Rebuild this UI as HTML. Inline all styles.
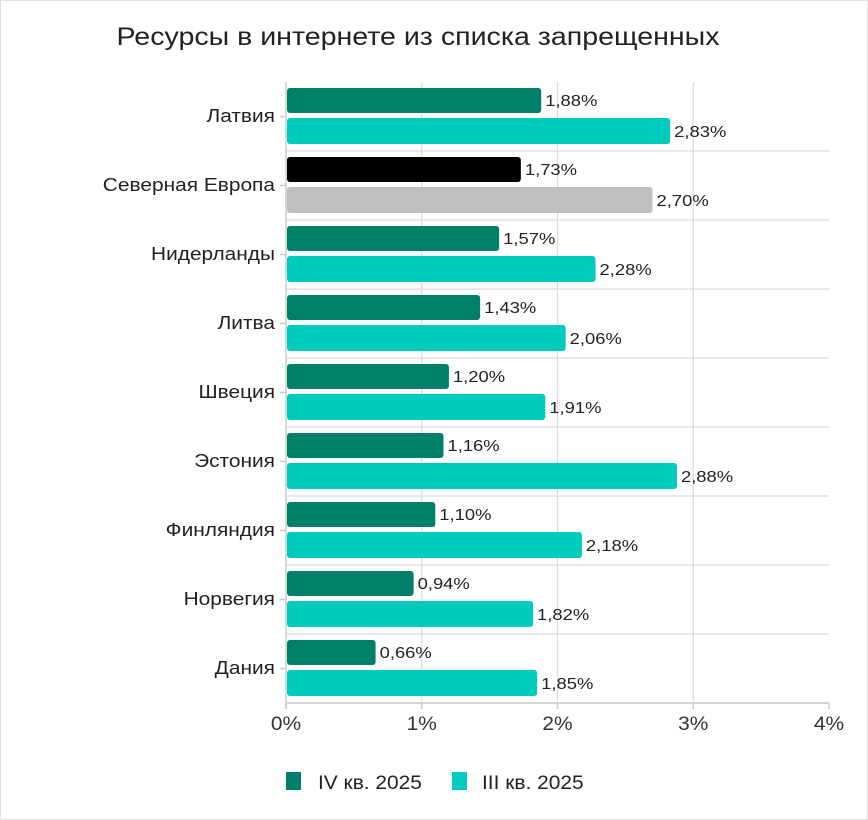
<!DOCTYPE html>
<html><head><meta charset="utf-8"><style>
html,body{margin:0;padding:0;background:#fff}
svg{display:block;font-family:"Liberation Sans","Noto Sans CJK SC",sans-serif}
</style></head><body>
<svg id="s" width="868" height="820" xmlns="http://www.w3.org/2000/svg">
<rect x="0.5" y="0.5" width="867" height="819" fill="#fff" stroke="#e0e0e0"/>
<text x="418" y="45" text-anchor="middle" font-size="25" fill="#222" textLength="603" lengthAdjust="spacingAndGlyphs">Ресурсы в интернете из списка запрещенных</text>
<g id="g"></g>
<rect x="286" y="772" width="15" height="18" fill="#008069"/>
<text class="w" data-f="1.1" x="318" y="789" font-size="19" fill="#222">IV кв. 2025</text>
<rect x="452" y="772" width="15" height="18" fill="#00CCBE"/>
<text class="w" data-f="1.1" x="482" y="789" font-size="19" fill="#222">III кв. 2025</text>
</svg>
<script>
var d=[["Латвия",1.88,2.83],["Северная Европа",1.73,2.70],["Нидерланды",1.57,2.28],["Литва",1.43,2.06],["Швеция",1.20,1.91],["Эстония",1.16,2.88],["Финляндия",1.10,2.18],["Норвегия",0.94,1.82],["Дания",0.66,1.85]];
var X0=286,S=135.75,h="";
for(var k=0;k<=4;k++){var x=X0+k*S;
if(k>0&&k<4)h+='<line x1="'+x+'" y1="82" x2="'+x+'" y2="703" stroke="#dcdcdc" stroke-width="1.3"/>';
h+='<line x1="'+x+'" y1="703" x2="'+x+'" y2="709" stroke="#ccc" stroke-width="1.5"/>';
h+='<text class="w" data-f="1.1" x="'+x+'" y="730" text-anchor="middle" font-size="19" fill="#333">'+k+'%</text>';}
for(var i=1;i<=9;i++){var y=82+69*i;h+='<line x1="'+X0+'" y1="'+y+'" x2="829" y2="'+y+'" stroke="#dcdcdc" stroke-width="1.3"/>';}
h+='<line x1="'+X0+'" y1="82" x2="'+X0+'" y2="709" stroke="#ccc" stroke-width="1.5"/>';
h+='<line x1="'+X0+'" y1="703" x2="829" y2="703" stroke="#ccc" stroke-width="1.5"/>';
function f(v){return v.toFixed(2).replace(".",",")+"%";}
for(var i=0;i<9;i++){var t=82+69*i,r=d[i];
var c1=i==1?"#000":"#008069",c2=i==1?"#BFBFBF":"#00CCBE";
h+='<line x1="280" y1="'+(t+34.5)+'" x2="286" y2="'+(t+34.5)+'" stroke="#ccc" stroke-width="1.5"/>';
h+='<text class="w" data-f="1.16" x="275" y="'+(t+40)+'" text-anchor="end" font-size="18" fill="#222">'+r[0]+'</text>';
var w1=r[1]*S,w2=r[2]*S;
h+='<rect x="'+(X0+1)+'" y="'+(t+6)+'" width="'+(w1-1)+'" height="25" rx="3" fill="'+c1+'"/>';
h+='<rect x="'+(X0+1)+'" y="'+(t+36)+'" width="'+(w2-1)+'" height="26" rx="3" fill="'+c2+'"/>';
h+='<text class="w" data-f="1.15" x="'+(X0+w1+4)+'" y="'+(t+24)+'" font-size="16" fill="#222">'+f(r[1])+'</text>';
h+='<text class="w" data-f="1.15" x="'+(X0+w2+4)+'" y="'+(t+55)+'" font-size="16" fill="#222">'+f(r[2])+'</text>';}
document.getElementById("g").innerHTML=h;
var ws=document.querySelectorAll("text.w");
for(var j=0;j<ws.length;j++){var e=ws[j];var L=e.getComputedTextLength();
e.setAttribute("textLength",(L*parseFloat(e.getAttribute("data-f"))).toFixed(1));
e.setAttribute("lengthAdjust","spacingAndGlyphs");}
</script>
</body></html>
